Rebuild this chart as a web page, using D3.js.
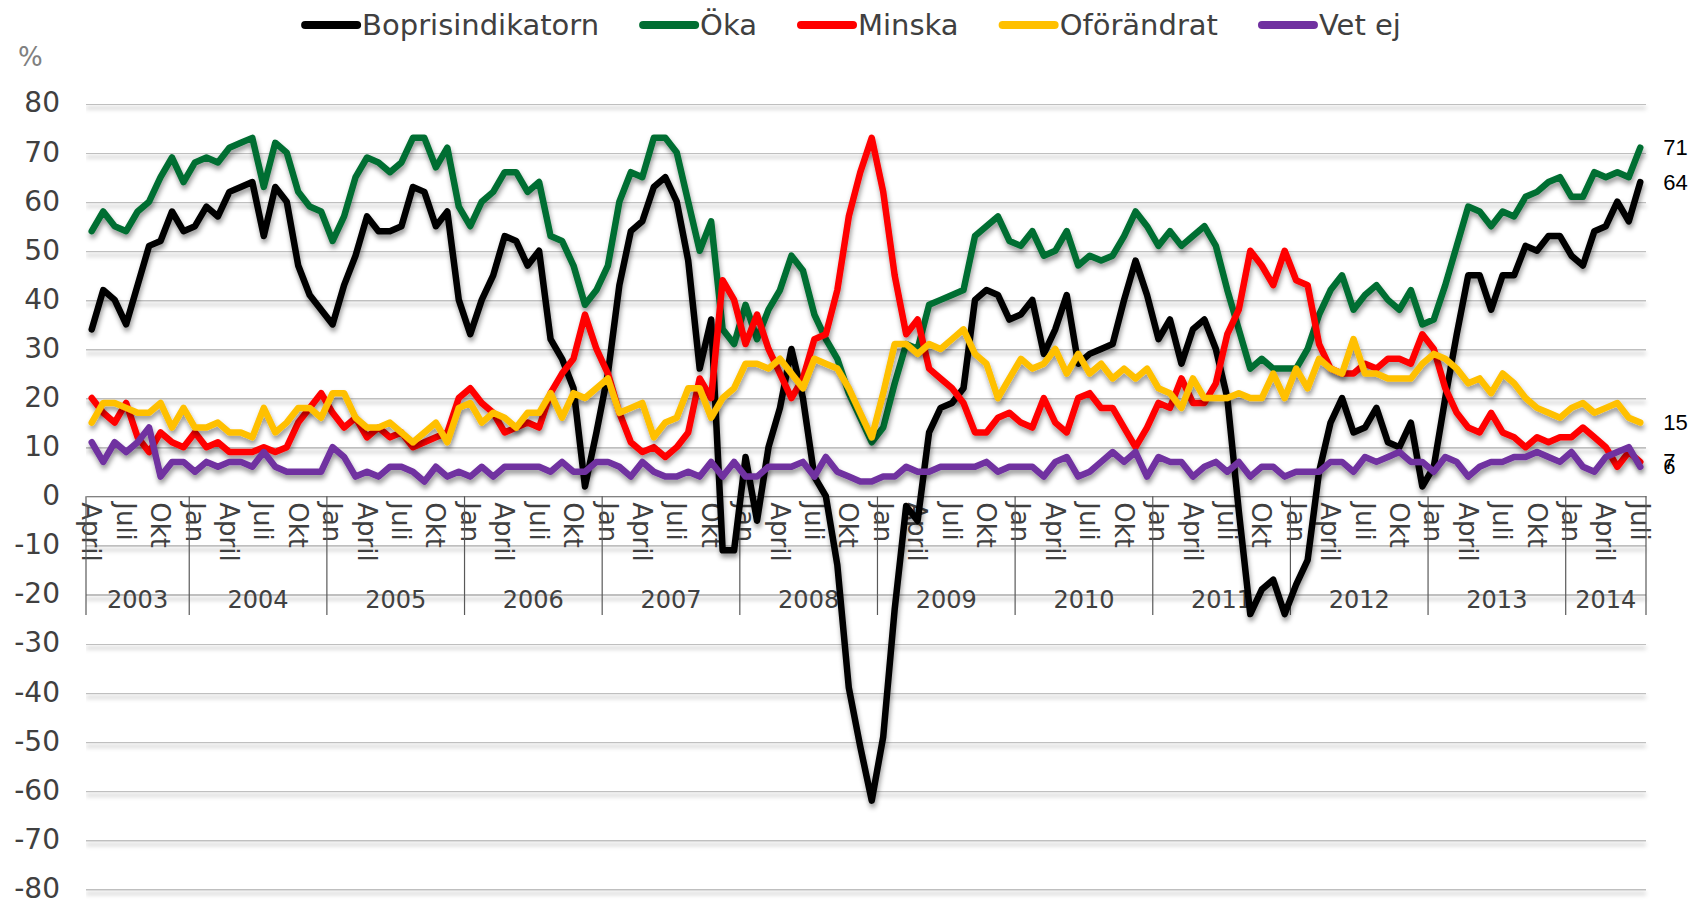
<!DOCTYPE html>
<html>
<head>
<meta charset="utf-8">
<title>Boprisindikatorn</title>
<script src="https://d3js.org/d3.v7.min.js"></script>
<style>
  body { margin: 0; background: #fff; }
  svg { display: block; font-family: "DejaVu Sans", Verdana, sans-serif; }
</style>
</head>
<body>
<div id="chart"></div>
<script>
// monthly values, April 2003 - July 2014
var boprisindikatorn = [34,42,40,35,43,51,52,58,54,55,59,57,62,63,64,53,63,60,47,41,38,35,43,49,57,54,54,55,63,62,55,58,40,33,40,45,53,52,47,50,32,28,22,2,13,25,43,54,56,63,65,60,48,26,36,-11,-11,8,-5,10,18,30,20,4,0,-14,-39,-51,-62,-49,-23,-2,-5,13,18,19,22,40,42,41,36,37,40,29,34,41,27,29,30,31,40,48,41,32,36,27,34,36,30,20,-3,-24,-19,-17,-24,-18,-13,5,15,20,13,14,18,11,10,15,2,6,20,33,45,45,38,45,45,51,50,53,53,49,47,54,55,60,56,64];
var oka = [54,58,55,54,58,60,65,69,64,68,69,68,71,72,73,63,72,70,62,59,58,52,57,65,69,68,66,68,73,73,67,71,59,55,60,62,66,66,62,64,53,52,47,39,42,47,60,66,65,73,73,70,60,50,56,34,31,39,32,38,42,49,46,37,32,28,21,16,11,14,23,31,30,39,40,41,42,53,55,57,52,51,54,49,50,54,47,49,48,49,53,58,55,51,54,51,53,55,51,42,34,26,28,26,26,26,30,37,42,45,38,41,43,40,38,42,35,36,43,51,59,58,55,58,57,61,62,64,65,61,61,66,65,66,65,71];
var minska = [20,17,15,19,12,9,13,11,10,13,10,11,9,9,9,10,9,10,15,18,21,17,14,16,12,14,12,13,10,11,12,13,20,22,19,17,13,14,15,14,21,25,28,37,30,25,17,11,9,10,8,10,13,24,20,44,40,31,37,30,25,20,24,32,33,42,57,66,73,62,45,33,36,26,24,22,19,13,13,16,17,15,14,20,15,13,20,21,18,18,14,10,14,19,18,24,19,19,23,33,38,50,47,43,50,44,43,31,26,25,25,27,26,28,28,27,33,30,22,17,14,13,17,13,12,10,12,11,12,12,14,12,10,6,9,7];
var oforandrat = [15,19,19,18,17,17,19,14,18,14,14,15,13,13,12,18,13,15,18,18,16,21,21,16,14,14,15,13,11,13,15,11,18,19,15,17,16,14,17,17,21,16,21,20,22,24,17,18,19,12,15,16,22,22,16,20,22,27,27,26,28,25,22,28,27,26,22,17,12,21,31,31,29,31,30,32,34,29,27,20,24,28,26,27,30,25,29,25,27,24,26,24,26,22,21,18,24,20,20,20,21,20,20,25,20,26,22,28,26,25,32,25,25,24,24,24,27,29,28,26,23,24,21,25,23,20,18,17,16,18,19,17,18,19,16,15];
var vetEj = [11,7,11,9,11,14,4,7,7,5,7,6,7,7,6,9,6,5,5,5,5,10,8,4,5,4,6,6,5,3,6,4,5,4,6,4,6,6,6,6,5,7,5,5,7,7,6,4,7,5,4,4,5,4,7,4,7,4,4,6,6,6,7,4,8,5,4,3,3,4,4,6,5,5,6,6,6,6,7,5,6,6,6,4,7,8,4,5,7,9,7,9,4,8,7,7,4,6,7,5,7,4,6,6,4,5,5,5,7,7,5,8,7,8,9,7,7,5,8,7,4,6,7,7,8,8,9,8,7,9,6,5,8,9,10,6];

var monthNames = {0: "Jan", 3: "April", 6: "Juli", 9: "Okt"};
var years = ["2003","2004","2005","2006","2007","2008","2009","2010","2011","2012","2013","2014"];
var yTicks = d3.range(-80, 81, 10);

var months = d3.timeMonth.range(new Date(2003, 3, 1), new Date(2014, 7, 1));

var series = [
  { name: "Boprisindikatorn", color: "#000000", values: boprisindikatorn },
  { name: "Öka", color: "#006e32", values: oka },
  { name: "Minska", color: "#ff0000", values: minska },
  { name: "Oförändrat", color: "#ffc000", values: oforandrat },
  { name: "Vet ej", color: "#7030a0", values: vetEj }
];

var width = 1702, height = 902;
var plotLeft = 86, plotRight = 1646, plotTop = 103.5, plotBottom = 889;

var svg = d3.select("#chart").append("svg")
  .attr("width", width)
  .attr("height", height);

var defs = svg.append("defs");
var fs = defs.append("filter").attr("id", "shadow")
  .attr("filterUnits", "userSpaceOnUse")
  .attr("x", 0).attr("y", 0).attr("width", width).attr("height", height);
fs.append("feDropShadow").attr("dx", 1).attr("dy", 4).attr("stdDeviation", 2.5)
  .attr("flood-color", "#000").attr("flood-opacity", 0.4);
var fg = defs.append("filter").attr("id", "gshadow")
  .attr("filterUnits", "userSpaceOnUse")
  .attr("x", 0).attr("y", 0).attr("width", width).attr("height", height);
fg.append("feDropShadow").attr("dx", 0).attr("dy", 4).attr("stdDeviation", 2)
  .attr("flood-color", "#000").attr("flood-opacity", 0.25);

var x = d3.scaleBand()
  .domain(d3.range(months.length))
  .range([plotLeft, plotRight]);
var cx = function (i) { return x(i) + x.bandwidth() / 2; };

var y = d3.scaleLinear()
  .domain([-80, 80])
  .range([plotBottom, plotTop]);

// y axis + gridlines
var gy = svg.append("g")
  .attr("transform", "translate(" + plotLeft + ",0)")
  .call(d3.axisLeft(y)
    .tickValues(yTicks)
    .tickSize(-(plotRight - plotLeft))
    .tickPadding(26)
    .tickFormat(function (d) { return String(d); }));
gy.select(".domain").remove();
gy.selectAll(".tick line")
  .attr("stroke", function (d) { return d === 0 ? "none" : "#bfbfbf"; })
  .attr("stroke-width", 2)
  .attr("filter", "url(#gshadow)");
gy.selectAll(".tick text")
  .attr("fill", "#404040")
  .attr("dy", "0.3em")
  .style("font-size", "28px")
  .style("font-family", "'DejaVu Sans', Verdana, sans-serif");

svg.append("text")
  .attr("x", 18).attr("y", 57)
  .attr("dominant-baseline", "central")
  .attr("fill", "#808080")
  .style("font-size", "26px")
  .text("%");

// x axis: month labels
var labelled = d3.range(months.length).filter(function (i) { return months[i].getMonth() % 3 === 0; });
var gx = svg.append("g")
  .attr("transform", "translate(0," + y(0) + ")")
  .call(d3.axisBottom(x)
    .tickValues(labelled)
    .tickSize(0)
    .tickFormat(function (i) { return monthNames[months[i].getMonth()]; }));
gx.select(".domain").attr("stroke", "#595959").attr("stroke-width", 1.2);
gx.selectAll(".tick text")
  .attr("transform", "rotate(90)")
  .attr("x", 6)
  .attr("y", 0)
  .attr("dy", "0.36em")
  .style("text-anchor", "start")
  .attr("fill", "#404040")
  .style("font-size", "26px")
  .style("font-family", "'DejaVu Sans', Verdana, sans-serif");

// year groups
var yearSpans = years.map(function (yr) {
  var idx = d3.range(months.length).filter(function (i) { return String(months[i].getFullYear()) === yr; });
  return { year: yr, start: idx[0], end: idx[idx.length - 1] };
});
var sepBottom = 615;
svg.append("g").selectAll("line")
  .data(yearSpans.map(function (s) { return x(s.start); }).concat([plotRight]))
  .enter().append("line")
  .attr("x1", function (d) { return d; }).attr("x2", function (d) { return d; })
  .attr("y1", y(0)).attr("y2", sepBottom)
  .attr("stroke", "#595959").attr("stroke-width", 1.2);
svg.append("g").selectAll("text")
  .data(yearSpans)
  .enter().append("text")
  .attr("x", function (d) { return (x(d.start) + x(d.end) + x.bandwidth()) / 2; })
  .attr("y", 600)
  .attr("text-anchor", "middle")
  .attr("dominant-baseline", "central")
  .attr("fill", "#404040")
  .style("font-size", "24px")
  .text(function (d) { return d.year; });

// series
var line = d3.line()
  .x(function (d, i) { return cx(i); })
  .y(function (d) { return y(d); });

svg.append("g").selectAll("path")
  .data(series)
  .enter().append("path")
  .attr("d", function (d) { return line(d.values); })
  .attr("fill", "none")
  .attr("stroke", function (d) { return d.color; })
  .attr("stroke-width", 6.5)
  .attr("stroke-linejoin", "round")
  .attr("stroke-linecap", "round")
  .attr("filter", "url(#shadow)");

// end labels
var last = months.length - 1;
svg.append("g").selectAll("text")
  .data([oka, boprisindikatorn, oforandrat, minska, vetEj])
  .enter().append("text")
  .attr("x", cx(last) + 23)
  .attr("y", function (d) { return y(d[last]); })
  .attr("dominant-baseline", "central")
  .attr("fill", "#000")
  .style("font-family", "'Liberation Sans', Arial, sans-serif")
  .style("font-size", "22px")
  .text(function (d) { return d[last]; });

// legend
var legend = svg.append("g");
var lx = 0;
series.forEach(function (s) {
  var g = legend.append("g").attr("transform", "translate(" + lx + ",0)");
  g.append("line")
    .attr("x1", 4).attr("x2", 56).attr("y1", 0).attr("y2", 0)
    .attr("stroke", s.color).attr("stroke-width", 8)
    .attr("stroke-linecap", "round");
  var t = g.append("text")
    .attr("x", 61).attr("y", 0)
    .attr("dominant-baseline", "central")
    .attr("fill", "#404040")
    .style("font-size", "29px")
    .text(s.name);
  lx += 61 + t.node().getComputedTextLength() + 40;
});
lx -= 40;
legend.attr("transform", "translate(" + (851 - lx / 2) + ",25)");
</script>
</body>
</html>
